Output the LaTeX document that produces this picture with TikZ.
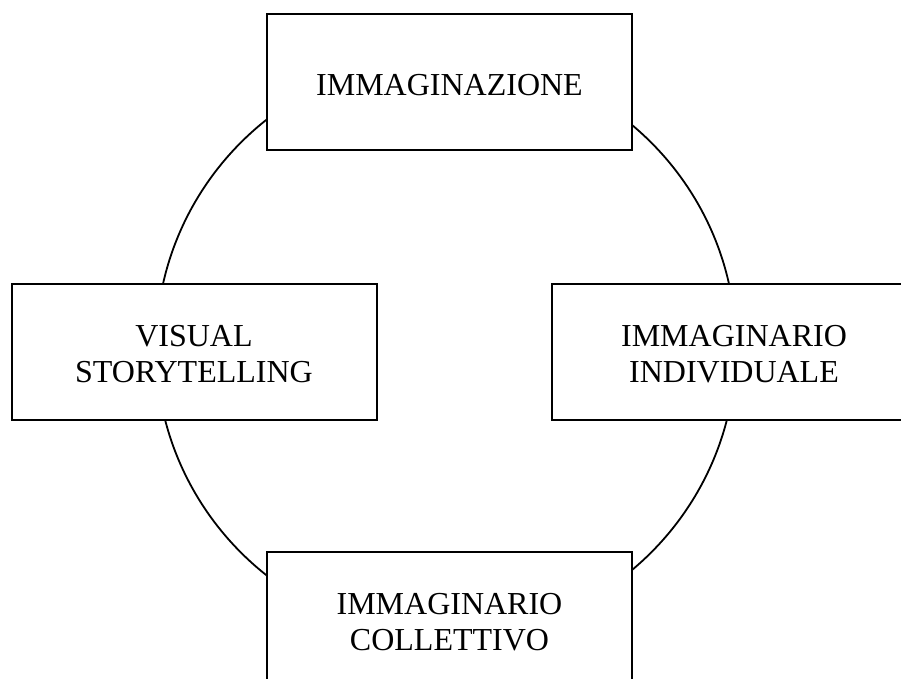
\documentclass[tikz,border=0pt]{standalone}
\usepackage{fontspec}
\setmainfont{Liberation Serif}
\newcommand{\boxtext}[2][5pt]{\raisebox{0pt}[\dimexpr\height+#1\relax][\dimexpr\depth-#1\relax]{\begin{tabular}{@{}c@{}}#2\end{tabular}}}
\begin{document}
\begin{tikzpicture}[x=1pt,y=1pt,
  box/.style={draw=black, line width=2pt, fill=white, rectangle, inner sep=0pt,
    minimum width=365pt, minimum height=136pt,
    font=\fontsize{32}{36}\selectfont},
  ring/.style={draw=black, line width=1.8pt, circle, inner sep=0pt, minimum size=580pt}]
\useasboundingbox (0,0) rectangle (901,679);
\clip (0,0) rectangle (901,679);
\fill[white] (0,0) rectangle (901,679);
\node[ring] (ring) at (446,331.5) {};
\node[box] (top) at (449.5,596.5) {\boxtext[6pt]{IMMAGINAZIONE}};
\node[box] (left) at (194,327) {\boxtext{VISUAL\\STORYTELLING}};
\node[box] (right) at (734,327) {\boxtext{IMMAGINARIO\\INDIVIDUALE}};
\node[box] (bottom) at (449.5,59) {\boxtext{IMMAGINARIO\\COLLETTIVO}};
\end{tikzpicture}
\end{document}
